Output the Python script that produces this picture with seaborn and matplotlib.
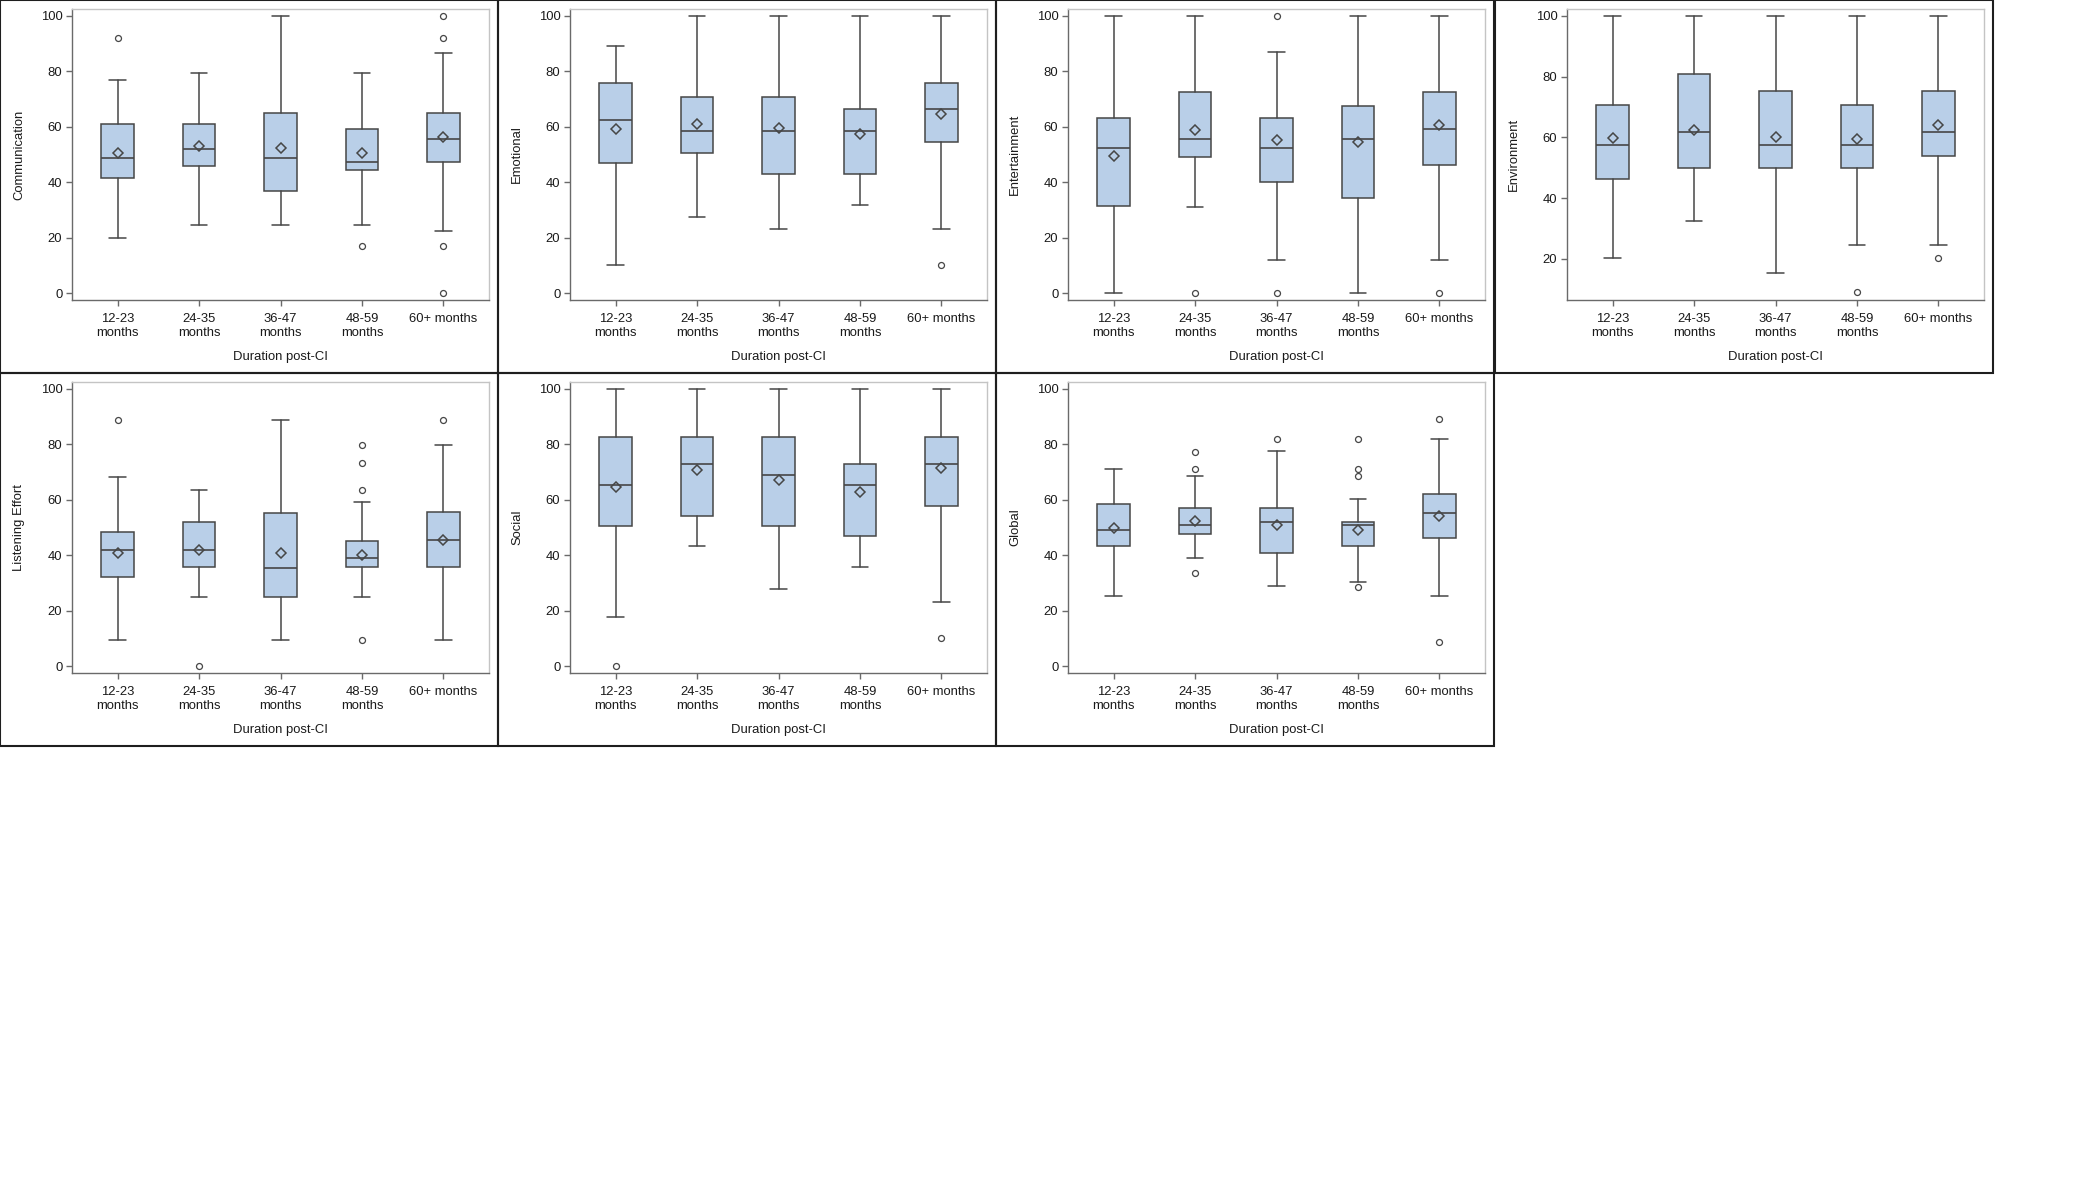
import pandas as pd
import seaborn as sns
import matplotlib.pyplot as plt
from matplotlib.patches import Rectangle

durations = ["12-23\nmonths", "24-35\nmonths", "36-47\nmonths", "48-59\nmonths", "60+ months"]
STAT_COLS = ["whislo", "q1", "med", "q3", "whishi", "mean"]

# one row per duration group: whisker low, Q1, median, Q3, whisker high, mean
comm_stats = [[19.9, 41.3, 48.7, 61.0, 76.7, 50.5],
              [24.6, 45.7, 52.1, 61.0, 79.5, 53.1],
              [24.6, 36.9, 48.7, 64.8, 100.0, 52.2],
              [24.6, 44.2, 47.3, 59.1, 79.5, 50.4],
              [22.4, 47.3, 55.6, 64.8, 86.4, 56.3]]
comm_out = [[91.8], [], [], [16.9], [100.0, 91.8, 16.9, 0.0]]

emot_stats = [[10.1, 46.8, 62.5, 75.6, 89.0, 59.0],
              [27.6, 50.5, 58.4, 70.8, 100.0, 61.0],
              [23.0, 43.1, 58.4, 70.8, 100.0, 59.4],
              [31.7, 43.1, 58.4, 66.5, 100.0, 57.3],
              [23.0, 54.4, 66.5, 75.6, 100.0, 64.5]]
emot_out = [[], [], [], [], [10.1]]

ent_stats = [[0.0, 31.4, 52.2, 63.1, 100.0, 49.3],
             [31.2, 48.9, 55.6, 72.6, 100.0, 58.7],
             [11.8, 40.1, 52.2, 63.1, 87.0, 55.1],
             [0.0, 34.4, 55.6, 67.4, 100.0, 54.5],
             [11.8, 46.0, 59.3, 72.6, 100.0, 60.7]]
ent_out = [[], [0.0], [100.0, 0.0], [], [0.0]]

env_stats = [[20.4, 46.4, 57.6, 70.6, 100.0, 59.9],
             [32.4, 50.0, 61.9, 80.9, 100.0, 62.5],
             [15.5, 50.0, 57.6, 75.3, 100.0, 60.2],
             [24.7, 50.0, 57.6, 70.6, 100.0, 59.5],
             [24.7, 53.8, 61.9, 75.3, 100.0, 63.9]]
env_out = [[], [], [], [9.0], [20.4]]

lis_stats = [[9.3, 32.2, 42.0, 48.5, 68.0, 40.8],
             [24.8, 35.6, 42.0, 52.0, 63.5, 41.7],
             [9.3, 24.8, 35.5, 55.2, 88.7, 40.9],
             [24.8, 35.6, 38.8, 45.2, 59.3, 40.0],
             [9.3, 35.6, 45.3, 55.5, 79.6, 45.4]]
lis_out = [[88.7], [0.0], [], [79.6, 73.2, 63.5, 9.3], [88.7]]

soc_stats = [[17.8, 50.5, 65.1, 82.6, 100.0, 64.7],
             [43.3, 54.1, 72.9, 82.7, 100.0, 70.5],
             [27.8, 50.5, 68.8, 82.6, 100.0, 67.1],
             [35.8, 47.0, 65.1, 72.8, 100.0, 62.6],
             [23.2, 57.7, 72.9, 82.7, 100.0, 71.5]]
soc_out = [[0.0], [], [], [], [10.2]]

glob_stats = [[25.1, 43.3, 49.2, 58.5, 70.9, 49.9],
              [39.0, 47.6, 50.7, 56.8, 68.4, 52.2],
              [28.8, 40.7, 52.0, 56.8, 77.4, 50.7],
              [30.4, 43.3, 50.7, 52.0, 60.2, 49.0],
              [25.1, 46.1, 55.1, 61.9, 81.9, 54.2]]
glob_out = [[], [77.2, 70.9, 33.4], [81.9], [81.9, 70.9, 68.4, 28.6], [89.1, 8.8]]

panels = [("Communication", comm_stats, comm_out),
          ("Emotional", emot_stats, emot_out),
          ("Entertainment", ent_stats, ent_out),
          ("Environment", env_stats, env_out),
          ("Listening Effort", lis_stats, lis_out),
          ("Social", soc_stats, soc_out),
          ("Global", glob_stats, glob_out)]

FILL = "#B9CFE8"
EDGE = "#464646"
FS = 9.4

sns.set_theme(style="ticks")
plt.rcParams["font.family"] = ["Liberation Sans", "DejaVu Sans"]

W, H = 2100, 1181
col_x = [0, 498, 996, 1495]
row_y = [0, 373]
PW, PH = 498, 373

fig = plt.figure(figsize=(W / 100, H / 100), dpi=100)

for i, (name, stats, outs) in enumerate(panels):
    r, c = divmod(i, 4)
    x0, y0 = col_x[c], row_y[r]
    # SAS-style frame around each panel
    fig.patches.append(Rectangle((x0 / W, 1 - (y0 + PH) / H), PW / W, PH / H,
                                 transform=fig.transFigure, fill=False,
                                 ec="#1e1e1e", lw=1.5, zorder=0))
    ax = fig.add_axes([(x0 + 72) / W, 1 - (y0 + 300) / H, 417 / W, 291 / H])

    df = pd.DataFrame(stats, columns=STAT_COLS)
    df["fliers"] = outs
    df["duration"] = durations

    ax.bxp(df.to_dict("records"), positions=range(len(durations)), widths=0.4,
           capwidths=0.2, patch_artist=True, manage_ticks=False,
           boxprops=dict(facecolor=FILL, edgecolor=EDGE, linewidth=1.1),
           medianprops=dict(color=EDGE, linewidth=1.2),
           whiskerprops=dict(color=EDGE, linewidth=1.1),
           capprops=dict(color=EDGE, linewidth=1.1),
           flierprops=dict(marker="o", markerfacecolor="none", markeredgecolor=EDGE,
                           markersize=4.3, markeredgewidth=0.9))

    # means as hollow diamonds
    sns.pointplot(data=df, x="duration", y="mean", ax=ax, errorbar=None,
                  linestyle="none", markers="D", color=EDGE,
                  markerfacecolor="none", markeredgewidth=1.1, markersize=5.6,
                  zorder=5)

    ax.set_xlim(-0.56, 4.56)
    if name == "Environment":
        ax.set_ylim(6.5, 102.2)
        ax.set_yticks([20, 40, 60, 80, 100])
    else:
        ax.set_ylim(-2.5, 102.4)
        ax.set_yticks([0, 20, 40, 60, 80, 100])
    ax.set_xticks(range(len(durations)))
    ax.set_xticklabels(durations)

    for side in ["top", "right"]:
        ax.spines[side].set_color("#C4C4C4")
        ax.spines[side].set_linewidth(1.0)
    for side in ["left", "bottom"]:
        ax.spines[side].set_color("#6A6A6A")
        ax.spines[side].set_linewidth(1.0)
    ax.tick_params(axis="both", length=4.5, width=1.0, color="#6A6A6A",
                   labelsize=FS, labelcolor="#1a1a1a")
    ax.tick_params(axis="x", pad=5.0)
    ax.tick_params(axis="y", pad=2.5)
    ax.grid(False)

    ax.set_xlabel("Duration post-CI", fontsize=FS, color="#1a1a1a")
    ax.set_ylabel(name, fontsize=FS, color="#1a1a1a")
    ax.xaxis.set_label_coords(0.5, -0.175)
    ax.yaxis.set_label_coords(-0.112, 0.5)

fig.savefig("out.png", dpi=100)
